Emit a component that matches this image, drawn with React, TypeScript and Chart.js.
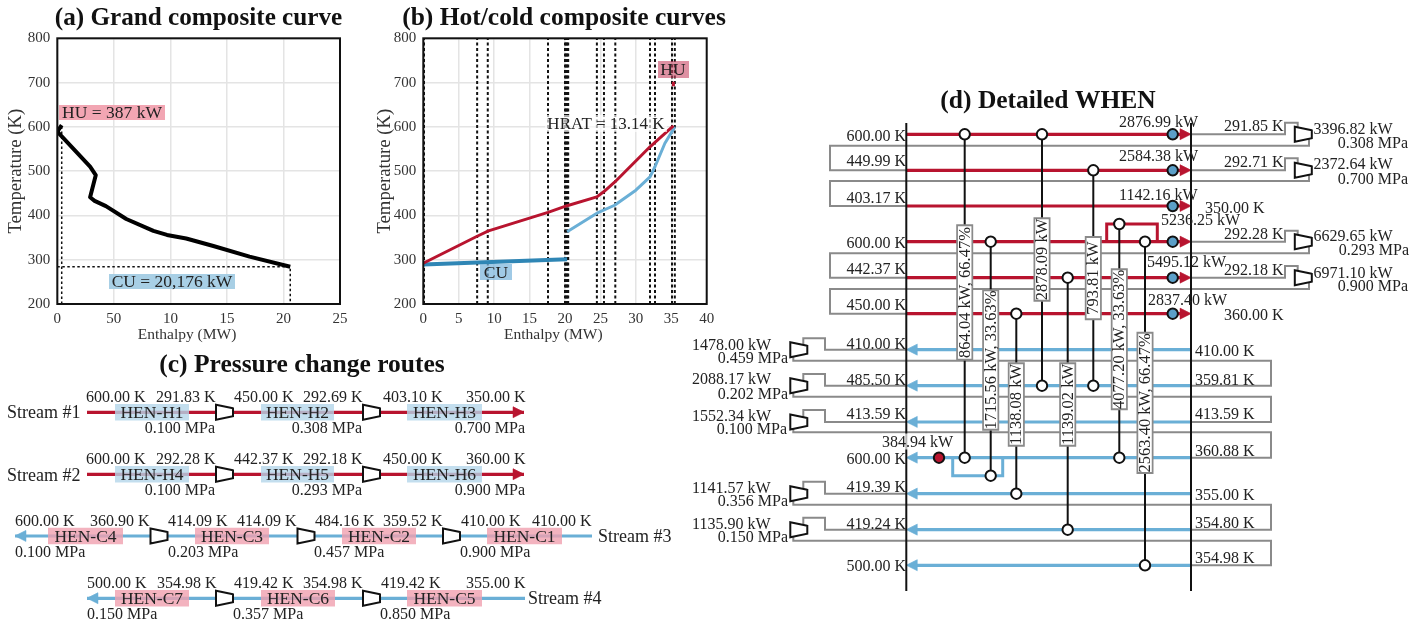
import React, { useEffect, useRef } from "react";
import { Chart, registerables } from "chart.js";

Chart.register(...registerables);

const SERIF = '"Liberation Serif", serif';
const INK = "#222";
const HOT = "#b8142f";
const COLD = "#6aafd6";
const COLD_DARK = "#2f86b5";
const GREY = "#8a8a8a";
const HL_BLUE = "rgba(180,214,234,0.8)";
const HL_PINK = "rgba(240,160,175,0.8)";

// ---------- (a) grand composite curve
const gccEnthalpy = [0.39, 0, 2.9, 3.4, 2.9, 3.3, 4.3, 6.1, 8.5, 9.7, 11.4, 13.8, 17, 20.6];
const gccTemperature = [604, 589, 510, 491, 441, 433, 421, 392, 365, 356, 348, 331, 307, 284];
const huEnthalpy = 0.39;
const cuEnthalpy = 20.6;
const cuTemperature = 284;

// ---------- (b) hot / cold composite curves
const hotEnthalpy = [0, 7.6, 9.2, 17.6, 20.3, 24.5, 25.5, 27, 32, 32.7, 35.3];
const hotTemperature = [292, 353, 365, 407, 422, 442, 454, 475, 555, 565, 602];
const coolEnthalpy = [0, 20.3];
const coolTemperature = [289, 301];
const coldEnthalpy = [20.3, 24.5, 27, 30, 32, 32.7, 34.1, 35.5];
const coldTemperature = [363, 405, 423, 457, 487, 510, 563, 600];
const intervalEnthalpy = [0, 0.1, 7.6, 9.1, 17.6, 20, 20.15, 20.3, 20.45, 24.5, 25.5, 27.1, 32, 32.7, 35.1, 35.5];
const heatUtilityEnthalpy = [35.3, 35.3];
const heatUtilityTemperature = [692, 702];

// ---------- (c) pressure change routes (schematic units)
const routeRows = [412.3, 474.3, 536, 598.3];
const routeSpan = [[87, 524], [87, 524], [15, 592], [87, 525]];
const routeHex = [
  ["HEN-H1", 115, 189, 0], ["HEN-H2", 261, 334, 0], ["HEN-H3", 407, 482, 0],
  ["HEN-H4", 115, 189, 1], ["HEN-H5", 261, 334, 1], ["HEN-H6", 407, 482, 1],
  ["HEN-C4", 48, 123, 2], ["HEN-C3", 195, 269, 2], ["HEN-C2", 342, 416, 2], ["HEN-C1", 487, 562, 2],
  ["HEN-C7", 115, 189, 3], ["HEN-C6", 261, 335, 3], ["HEN-C5", 407, 482, 3],
] as const;
const routeCompressors = [
  [224.5, 412.3], [371.5, 412.3], [224.5, 474.3], [371.5, 474.3],
  [159, 536], [306, 536], [451.5, 536],
  [224.5, 598.3], [371.5, 598.3],
];

// ---------- (d) detailed WHEN (schematic units)
const hotRows = [134.3, 170.3, 206, 241.7, 277.7, 313.7];
const coldRows = [349.7, 385.7, 422, 457.7, 493.7, 529.7, 565.3];
const gridLeft = 906.3;
const gridRight = 1191;
const coolerX = 1172.7;
const heaterX = 939;
const matches = [
  [964.7, 134.3, 457.7, 224.3, 360.7, "864.04 kW, 66.47%"],
  [990.7, 241.7, 475.7, 289.3, 430.7, "1715.56 kW, 33.63%"],
  [1016.3, 313.7, 493.7, 362.3, 446.7, "1138.08 kW"],
  [1042, 134.3, 385.7, 217.3, 301.7, "2878.09 kW"],
  [1067.7, 277.7, 529.7, 362.3, 446.7, "1139.02 kW"],
  [1093.3, 170.3, 385.7, 236, 320.3, "793.81 kW"],
  [1119.3, 224, 457.7, 268.3, 410.3, "4077.20 kW, 33.63%"],
  [1145, 241.7, 565.3, 331.7, 474, "2563.40 kW, 66.47%"],
] as const;
const hotSplit = [[1106.7, 241.7], [1106.7, 224], [1157.3, 224], [1157.3, 241.7]];
const coldSplit = [[952.7, 457.7], [952.7, 475.7], [1002.7, 475.7], [1002.7, 457.7]];
// [row y, riser top y, return y, next row y]
const hotLoops = [
  [134.3, 122.7, 145.7, 170.3],
  [170.3, 158.3, 181, 206],
  [241.7, 230.7, 253.2, 277.7],
  [277.7, 266, 289, 313.7],
];
const coldLoops = [
  [349.7, 338.3, 360.7, 385.7],
  [385.7, 374, 396.7, 422],
  [422, 410, 432.3, 457.7],
  [493.7, 481.7, 504.7, 529.7],
  [529.7, 517.7, 540.7, 565.3],
];

type T = [string, number, number, "l" | "r" | "c", number?, boolean?];
const labels: T[] = [
  ["(a) Grand composite curve", 198.5, 17, "c", 25.2, true],
  ["(b) Hot/cold composite curves", 564, 17, "c", 25.5, true],
  ["HU = 387 kW", 112, 112.5, "c", 17.5],
  ["CU = 20,176 kW", 172, 281.5, "c", 17.5],
  ["HU", 673, 69.5, "c", 17.5],
  ["HRAT = 13.14 K", 606, 123.5, "c", 17],
  ["CU", 496, 272, "c", 17.5],
  ["(c) Pressure change routes", 302, 364, "c", 25.5, true],
  ["(d) Detailed WHEN", 1048, 100, "c", 25.5, true],
  ["Stream #1", 7, 412.5, "l", 18], ["Stream #2", 7, 475, "l", 18],
  ["Stream #3", 598, 536, "l", 18], ["Stream #4", 528, 598.5, "l", 18],
  ["600.00 K", 86, 396.5, "l"], ["291.83 K", 156, 396.5, "l"], ["450.00 K", 234, 396.5, "l"], ["292.69 K", 303, 396.5, "l"], ["403.10 K", 383, 396.5, "l"], ["350.00 K", 466, 396.5, "l"],
  ["0.100 MPa", 215, 427.5, "r"], ["0.308 MPa", 362, 427.5, "r"], ["0.700 MPa", 525, 427.5, "r"],
  ["600.00 K", 86, 458.5, "l"], ["292.28 K", 156, 458.5, "l"], ["442.37 K", 234, 458.5, "l"], ["292.18 K", 303, 458.5, "l"], ["450.00 K", 383, 458.5, "l"], ["360.00 K", 466, 458.5, "l"],
  ["0.100 MPa", 215, 489.5, "r"], ["0.293 MPa", 362, 489.5, "r"], ["0.900 MPa", 525, 489.5, "r"],
  ["600.00 K", 15, 521, "l"], ["360.90 K", 90, 521, "l"], ["414.09 K", 168, 521, "l"], ["414.09 K", 237, 521, "l"], ["484.16 K", 315, 521, "l"], ["359.52 K", 383, 521, "l"], ["410.00 K", 461, 521, "l"], ["410.00 K", 532, 521, "l"],
  ["0.100 MPa", 15, 551.5, "l"], ["0.203 MPa", 168, 551.5, "l"], ["0.457 MPa", 314, 551.5, "l"], ["0.900 MPa", 460, 551.5, "l"],
  ["500.00 K", 87, 583, "l"], ["354.98 K", 157, 583, "l"], ["419.42 K", 234, 583, "l"], ["354.98 K", 303, 583, "l"], ["419.42 K", 381, 583, "l"], ["355.00 K", 466, 583, "l"],
  ["0.150 MPa", 87, 614, "l"], ["0.357 MPa", 233, 614, "l"], ["0.850 MPa", 380, 614, "l"],
  ["600.00 K", 906, 135.5, "r"], ["449.99 K", 906, 161, "r"], ["403.17 K", 906, 197.5, "r"], ["600.00 K", 906, 243, "r"], ["442.37 K", 906, 269, "r"], ["450.00 K", 906, 305, "r"],
  ["2876.99 kW", 1119, 121.5, "l"], ["2584.38 kW", 1119, 155.5, "l"], ["1142.16 kW", 1119, 195, "l"], ["5236.25 kW", 1161, 219.5, "l"], ["5495.12 kW", 1147, 261.5, "l"], ["2837.40 kW", 1148, 299.5, "l"],
  ["350.00 K", 1205, 207.5, "l"], ["360.00 K", 1224, 315, "l"],
  ["291.85 K", 1224, 126, "l"], ["292.71 K", 1224, 161.5, "l"], ["292.28 K", 1224, 234, "l"], ["292.18 K", 1224, 269.5, "l"],
  ["3396.82 kW", 1313.5, 128.5, "l"], ["0.308 MPa", 1408, 142.5, "r"],
  ["2372.64 kW", 1313.5, 164, "l"], ["0.700 MPa", 1408, 178.5, "r"],
  ["6629.65 kW", 1313.5, 236, "l"], ["0.293 MPa", 1409, 249.5, "r"],
  ["6971.10 kW", 1313.5, 272.5, "l"], ["0.900 MPa", 1408, 285.5, "r"],
  ["410.00 K", 906, 343.5, "r"], ["485.50 K", 906, 379.5, "r"], ["413.59 K", 906, 414, "r"], ["600.00 K", 906, 458.5, "r"], ["419.39 K", 906, 486.5, "r"], ["419.24 K", 906, 523.5, "r"], ["500.00 K", 906, 565.5, "r"],
  ["1478.00 kW", 692, 344.5, "l"], ["0.459 MPa", 788, 357.5, "r"],
  ["2088.17 kW", 692, 379, "l"], ["0.202 MPa", 788, 394, "r"],
  ["1552.34 kW", 692, 415.5, "l"], ["0.100 MPa", 787, 429, "r"],
  ["1141.57 kW", 692, 487.5, "l"], ["0.356 MPa", 788, 501, "r"],
  ["1135.90 kW", 692, 523.5, "l"], ["0.150 MPa", 788, 536.5, "r"],
  ["384.94 kW", 882, 441.5, "l"],
  ["410.00 K", 1195, 350.5, "l"], ["359.81 K", 1195, 379.5, "l"], ["413.59 K", 1195, 414, "l"], ["360.88 K", 1195, 450.5, "l"], ["355.00 K", 1195, 494.5, "l"], ["354.80 K", 1195, 522.5, "l"], ["354.98 K", 1195, 557.5, "l"],
];

type P = { x: number; y: number };
const pts = (a: number[][]): P[] => a.map(([x, y]) => ({ x, y }));
const zip = (xs: number[], ys: number[]): P[] => xs.map((x, i) => ({ x, y: ys[i] }));

function path(points: P[], color: string, width: number, extra: any = {}) {
  return {
    data: points, borderColor: color, borderWidth: width, pointRadius: 0, tension: 0, fill: false,
    borderCapStyle: "butt", borderJoinStyle: "miter", borderDash: [6000, 1], ...extra,
  };
}
const dots = (points: P[], fillColor: string) => ({
  data: points, showLine: false, pointRadius: 5.2, pointBackgroundColor: fillColor, pointBorderColor: "#111", pointBorderWidth: 2,
});
const poly = (a: number[][], color: string, bg: string, w = 2) =>
  path(pts([...a, a[0], a[1]]), color, w, { fill: "shape", backgroundColor: bg });
const compressor = (cx: number, cy: number) =>
  poly([[cx - 8.5, cy - 7.5], [cx + 8.5, cy - 4], [cx + 8.5, cy + 4], [cx - 8.5, cy + 7.5]], "#111", "#fff");
const arrowR = (tip: number, y: number, c: string) => poly([[tip - 11, y - 5.5], [tip, y], [tip - 11, y + 5.5]], c, c, 0.5);
const arrowL = (tip: number, y: number, c: string) => poly([[tip + 11, y - 5.5], [tip, y], [tip + 11, y + 5.5]], c, c, 0.5);
const band = (x1: number, x2: number, y: number, h: number, c: string) => path(pts([[x1, y], [x2, y]]), c, h);

function schematicDatasets() {
  const d: any[] = [];
  // label highlights on plots (a), (b)
  d.push(band(59, 165, 112.5, 15, "#f2a6b3"));
  d.push(band(109, 235, 281.5, 15, "#a8cfe5"));
  d.push(band(658, 689, 69.5, 17, "rgba(200,70,100,0.6)"));
  d.push(band(545, 667, 123.5, 17, "rgba(255,255,255,0.65)"));
  d.push(band(480, 512, 272, 16, "rgba(120,180,220,0.7)"));
  // (c)
  routeRows.forEach((y, i) => {
    const c = i < 2 ? HOT : COLD;
    d.push(path(pts([[routeSpan[i][0], y], [routeSpan[i][1], y]]), c, 3.2));
    if (i < 2) d.push(arrowR(routeSpan[i][1], y, HOT));
    else d.push(arrowL(routeSpan[i][0], y, COLD));
  });
  routeHex.forEach(([, a, b, r]) => d.push(band(a, b, routeRows[r], 16.5, r < 2 ? HL_BLUE : HL_PINK)));
  routeCompressors.forEach(([x, y]) => d.push(compressor(x, y)));
  // (d) grey recycle loops
  hotLoops.forEach(([y, top, ret, next]) => {
    d.push(path(pts([[gridRight, y], [1285, y], [1285, top], [1297.7, top], [1297.7, y - 6]]), GREY, 2));
    d.push(path(pts([[1309, y + 3], [1309, ret], [830, ret], [830, next], [gridLeft, next]]), GREY, 2));
  });
  coldLoops.forEach(([y, top, ret, next]) => {
    d.push(path(pts([[gridLeft, y], [825, y], [825, top], [803.3, top], [803.3, y - 4]]), GREY, 2));
    d.push(path(pts([[793.3, y + 5], [793.3, ret], [1271, ret], [1271, next], [gridRight, next]]), GREY, 2));
  });
  // (d) process streams
  hotRows.forEach((y) => {
    d.push(path(pts([[gridLeft, y], [gridRight - 8, y]]), HOT, 3.2));
    d.push(arrowR(gridRight, y, HOT));
  });
  coldRows.forEach((y) => {
    d.push(path(pts([[gridLeft + 8, y], [gridRight, y]]), COLD, 3.2));
    d.push(arrowL(gridLeft, y, COLD));
  });
  d.push(path(pts(hotSplit), HOT, 3));
  d.push(path(pts(coldSplit), COLD, 3));
  // (d) matches
  matches.forEach(([x, a, b]) => d.push(path(pts([[x, a], [x, b]]), "#111", 2)));
  d.push(path(pts([[gridLeft, 123], [gridLeft, 591]]), "#111", 2));
  d.push(path(pts([[gridRight, 123], [gridRight, 591]]), "#111", 2));
  matches.forEach(([x, , , top, bottom]) => {
    d.push(path(pts([[x, top], [x, bottom]]), GREY, 17));
    d.push(path(pts([[x, top + 2], [x, bottom - 2]]), "#fff", 13.5));
  });
  d.push(band(882, 960, 441.5, 16, "rgba(255,255,255,0.7)"));
  d.push(dots(matches.flatMap(([x, a, b]) => [{ x, y: a }, { x, y: b }]), "#fff"));
  d.push(dots(hotRows.map((y) => ({ x: coolerX, y })), "#5b9fc8"));
  d.push(dots([{ x: heaterX, y: coldRows[3] }], HOT));
  // compressors of (d)
  hotLoops.forEach(([y]) => d.push(compressor(1303.3, y)));
  coldLoops.forEach(([y]) => d.push(compressor(798.8, y)));
  const n = d.length;
  d.forEach((s, i) => (s.order = n - i));
  return d;
}

const textPlugin = {
  id: "schematicText",
  afterDatasetsDraw(chart: any) {
    const { ctx, scales } = chart;
    const X = (v: number) => scales.x.getPixelForValue(v);
    const Y = (v: number) => scales.y.getPixelForValue(v) + 1;
    ctx.save();
    ctx.fillStyle = INK;
    ctx.textBaseline = "middle";
    labels.forEach(([s, x, y, a, size = 16, bold]) => {
      ctx.font = `${bold ? "bold " : ""}${size}px ${SERIF}`;
      ctx.fillStyle = bold ? "#111" : INK;
      ctx.textAlign = a === "l" ? "left" : a === "r" ? "right" : "center";
      ctx.fillText(s, X(x), Y(y));
    });
    ctx.fillStyle = INK;
    routeHex.forEach(([s, a, b, r]) => {
      ctx.font = `17.5px ${SERIF}`;
      ctx.textAlign = "center";
      ctx.fillText(s, X((a + b) / 2), Y(routeRows[r]));
    });
    matches.forEach(([x, , , top, bottom, s]) => {
      ctx.save();
      ctx.translate(X(x), scales.y.getPixelForValue((top + bottom) / 2));
      ctx.rotate(-Math.PI / 2);
      ctx.font = `16.5px ${SERIF}`;
      ctx.textAlign = "center";
      ctx.fillText(s, 0, 0.5);
      ctx.restore();
    });
    ctx.restore();
  },
};

const framePlugin = {
  id: "frame",
  afterDatasetsDraw(chart: any) {
    const { ctx, chartArea: a } = chart;
    ctx.save();
    ctx.strokeStyle = "#111";
    ctx.lineWidth = 2;
    ctx.strokeRect(a.left, a.top, a.right - a.left, a.bottom - a.top);
    ctx.restore();
  },
};

function plotOptions(xMax: number, left: number, right: number, xTickText: (v: number) => string, yTitlePad: number): any {
  return {
    responsive: false, animation: false, parsing: true,
    layout: { autoPadding: false, padding: { left: 0, right, top: 38.3, bottom: 0 } },
    plugins: { legend: { display: false }, tooltip: { enabled: false }, title: { display: false } },
    scales: {
      x: {
        type: "linear", min: 0, max: xMax,
        afterFit: (s: any) => { s.height = 40; },
        ticks: { stepSize: 5, color: "#333", font: { family: SERIF, size: 15 }, padding: 6, maxRotation: 0, callback: (v: number) => xTickText(v) },
        grid: { color: "#e4e4e4", lineWidth: 1.5, drawTicks: false },
        border: { display: false },
        title: { display: true, text: "Enthalpy (MW)      ", color: "#333", font: { family: SERIF, size: 15.5 }, padding: { top: 0, bottom: 0 } },
      },
      y: {
        type: "linear", min: 200, max: 800,
        afterFit: (s: any) => { s.width = left; },
        ticks: { stepSize: 100, color: "#333", font: { family: SERIF, size: 15 }, padding: 7 },
        grid: { color: "#e4e4e4", lineWidth: 1.5, drawTicks: false },
        border: { display: false },
        title: { display: true, text: "Temperature (K)", color: "#333", font: { family: SERIF, size: 18.7 }, padding: { top: yTitlePad, bottom: 0 } },
      },
    },
  };
}

const dotted = (points: P[], w: number, dash: number[] = [2.5, 2.5]) => ({
  data: points, borderColor: "#111", borderWidth: w, borderDash: dash, pointRadius: 0, tension: 0, fill: false,
});
const curve = (points: P[], color: string, w: number) => ({
  data: points, borderColor: color, borderWidth: w, pointRadius: 0, tension: 0, fill: false, borderJoinStyle: "round",
});

// tick text as printed in panel (a), where the 5 tick reads "50"
const gccTickText: Record<number, string> = { 0: "0", 5: "50", 10: "10", 15: "15", 20: "20", 25: "25" };

export default function App() {
  const aRef = useRef<HTMLCanvasElement>(null);
  const bRef = useRef<HTMLCanvasElement>(null);
  const sRef = useRef<HTMLCanvasElement>(null);

  useEffect(() => {
    document.body.style.margin = "0";
    const a = new Chart(aRef.current!, {
      type: "line",
      data: {
        datasets: [
          curve(zip(gccEnthalpy, gccTemperature), "#000", 4),
          dotted(pts([[huEnthalpy, 200], [huEnthalpy, 600]]), 1.5),
          dotted(pts([[0, cuTemperature], [cuEnthalpy, cuTemperature], [cuEnthalpy, 200]]), 1.5),
        ] as any,
      },
      options: plotOptions(25, 57.3, 57, (v) => gccTickText[v] ?? String(v), 5),
      plugins: [framePlugin],
    });
    const b = new Chart(bRef.current!, {
      type: "line",
      data: {
        datasets: [
          curve(zip(hotEnthalpy, hotTemperature), HOT, 3),
          curve(zip(coolEnthalpy, coolTemperature), COLD_DARK, 4),
          curve(zip(coldEnthalpy, coldTemperature), COLD, 3),
          curve(zip(heatUtilityEnthalpy, heatUtilityTemperature), HOT, 3),
          ...intervalEnthalpy.map((x) => dotted(pts([[x, 200], [x, 800]]), 2, [3, 2.5])),
        ] as any,
      },
      options: plotOptions(40, 63.3, 61.3, (v) => String(v), 14),
      plugins: [framePlugin],
    });
    const s = new Chart(sRef.current!, {
      type: "line",
      data: { datasets: schematicDatasets() },
      options: {
        responsive: false, animation: false, maintainAspectRatio: false,
        layout: { autoPadding: false, padding: 0 },
        plugins: { legend: { display: false }, tooltip: { enabled: false }, title: { display: false } },
        scales: {
          x: { type: "linear", display: false, min: 0, max: 1427 },
          y: { type: "linear", display: false, min: 0, max: 626, reverse: true },
        },
      } as any,
      plugins: [textPlugin],
    });
    return () => { a.destroy(); b.destroy(); s.destroy(); };
  }, []);

  const abs = (left: number, z: number): React.CSSProperties => ({ position: "absolute", left, top: 0, zIndex: z, pointerEvents: "none" });
  return (
    <div style={{ position: "relative", width: 1427, height: 626, filter: "blur(0.4px)" }}>
      <canvas ref={aRef} width={397} height={344} style={abs(0, 1)} />
      <canvas ref={bRef} width={408} height={344} style={abs(360, 1)} />
      <canvas ref={sRef} width={1427} height={626} style={abs(0, 2)} />
    </div>
  );
}
